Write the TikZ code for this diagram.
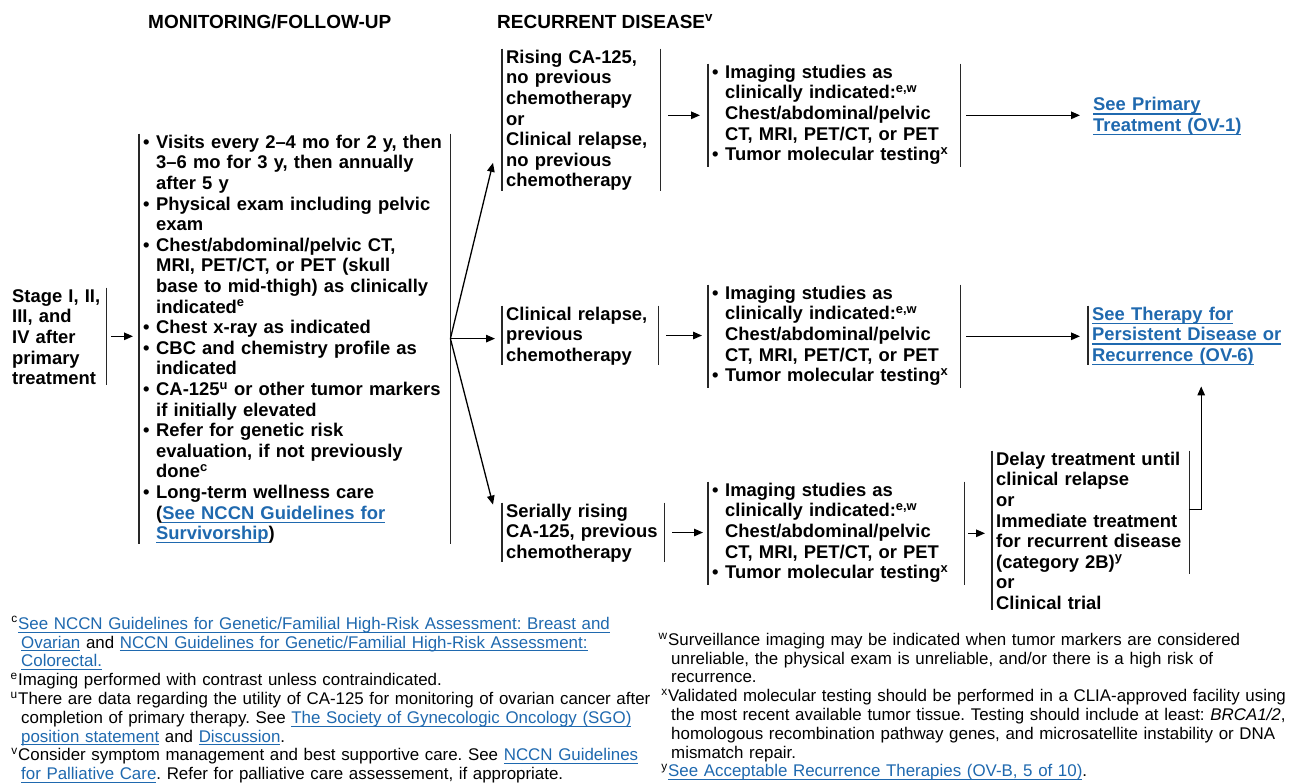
\documentclass[tikz,border=0pt]{standalone}
\usepackage{fontspec}
\setmainfont{Liberation Sans}
\usetikzlibrary{arrows.meta}
\definecolor{linkblue}{RGB}{31,105,175}
\definecolor{barline}{RGB}{40,40,40}
\frenchspacing
\newcommand\boxfont{\fontsize{18.4}{20.6}\selectfont\bfseries}
\newcommand\headfont{\fontsize{19}{22}\selectfont\bfseries}
\newcommand\notefont{\fontsize{16.9}{18.8}\selectfont}
\newcommand\lnk[1]{{\color{linkblue}\setbox0\hbox{#1}\rlap{\rule[-.2em]{\wd0}{.06em}}\box0}}
\newcommand\itm{\noindent\hangindent=13pt\hangafter=1\strut\makebox[13pt][l]{\textbullet}}
\newcommand\fn[3][14pt]{\noindent\hangindent=#1\hangafter=1\strut\makebox[#2][r]{\textsuperscript{#3}\kern.5pt}}
\newcommand\imaging{\itm Imaging studies as\newline clinically indicated:\textsuperscript{e,w}\newline Chest/abdominal/pelvic\newline CT, MRI, PET/CT, or PET\par\itm Tumor molecular testing\textsuperscript{x}\par}
\def\lbar#1{\draw[bar] (#1.north west) -- (#1.south west);}
\def\rbar#1{\draw[bar] (#1.north east) -- (#1.south east);}

\begin{document}
\begin{tikzpicture}[x=1pt,y=1pt,
	box/.style={anchor=north west, inner xsep=4pt, inner ysep=0pt, align=left, font=\boxfont},
	txtbox/.style={box, execute at begin node=\strut},
	bar/.style={draw=barline, line width=1.6pt},
	arr/.style={line width=1.3pt, -{Triangle[length=9pt,width=7.5pt]}}]
			%%%%% START %%%%%
			\fill[white] (0,0) rectangle (1298,-782);
			\useasboundingbox (0,0) rectangle (1298,-782);
			
			\node[box, font=\headfont, anchor=base west, inner sep=0pt] (hmon) at (148,-28) {MONITORING/FOLLOW-UP};
			\node[box, font=\headfont, anchor=base west, inner sep=0pt] (hrec) at (497,-28) {RECURRENT DISEASE\textsuperscript{v}};
			
			\node[txtbox, inner xsep=2pt, text width=92pt] (stage) at (10,-287.6) {Stage I, II,\newline III, and\newline IV after\newline primary\newline treatment};
			\rbar{stage}
			
			\node[box, text width=303pt] (mon) at (139,-133.6) {\itm Visits every 2–4 mo for 2 y, then\newline 3–6 mo for 3 y, then annually\newline after 5 y\par
				\itm Physical exam including pelvic\newline exam\par
				\itm Chest/abdominal/pelvic CT,\newline MRI, PET/CT, or PET (skull\newline base to mid-thigh) as clinically\newline indicated\textsuperscript{e}\par
				\itm Chest x-ray as indicated\par
				\itm CBC and chemistry profile as\newline indicated\par
				\itm CA-125\textsuperscript{u} or other tumor markers\newline if initially elevated\par
				\itm Refer for genetic risk\newline evaluation, if not previously\newline done\textsuperscript{c}\par
				\itm Long-term wellness care\newline (\lnk{See NCCN Guidelines for}\newline \lnk{Survivorship})\par};
			\lbar{mon}\rbar{mon}
			
			\node[txtbox, text width=150pt] (rec1) at (502,-48.6) {Rising CA-125,\newline no previous\newline chemotherapy\newline or\newline Clinical relapse,\newline no previous\newline chemotherapy};
			\node[txtbox, text width=148pt] (rec2) at (502,-305.6) {Clinical relapse,\newline previous\newline chemotherapy};
			\node[txtbox, text width=154pt] (rec3) at (502,-502.6) {Serially rising\newline CA-125, previous\newline chemotherapy};
			\lbar{rec1}\rbar{rec1}
			\lbar{rec2}\rbar{rec2}
			\lbar{rec3}\rbar{rec3}
			
			\node[box, text width=244pt] (img1) at (708,-63.6) {\imaging};
			\node[box, text width=244pt] (img2) at (708,-284.6) {\imaging};
			\node[box, text width=248pt] (img3) at (708,-481.6) {\imaging};
			\lbar{img1}\rbar{img1}
			\lbar{img2}\rbar{img2}
			\lbar{img3}\rbar{img3}
			
			\node[txtbox, text width=189pt] (delay) at (992,-450.6) {Delay treatment until\newline clinical relapse\newline or\newline Immediate treatment\newline for recurrent disease\newline (category 2B)\textsuperscript{y}\newline or\newline Clinical trial};
			\lbar{delay}
			\draw[bar] (delay.north east) -- ([yshift=36pt]delay.south east);
			
			\node[txtbox, text width=200pt] (ov1) at (1089,-96.3) {\lnk{See Primary}\newline \lnk{Treatment (OV-1)}};
			\node[txtbox, text width=200pt] (ov6) at (1088,-305.6) {\lnk{See Therapy for}\newline \lnk{Persistent Disease or}\newline \lnk{Recurrence (OV-6)}};
			\lbar{ov6}
			
			% arrows
			\draw[arr, shorten <=5pt, shorten >=6pt] (stage.east) -- (stage.east -| mon.west);
			\draw[arr] (mon.east) -- ([xshift=-9pt,yshift=28pt]rec1.south west);
			\draw[arr, shorten >=7pt] (mon.east) -- (mon.east -| rec2.west);
			\draw[arr] (mon.east) -- ([xshift=-9pt,yshift=-2pt]rec3.north west);
			\draw[arr, shorten <=8pt, shorten >=8pt] (rec1.east |- img1.west) -- (img1.west);
			\draw[arr, shorten <=8pt, shorten >=6pt] (rec2.east) -- (rec2.east -| img2.west);
			\draw[arr, shorten <=8pt, shorten >=5pt] (rec3.east) -- (rec3.east -| img3.west);
			\draw[arr, shorten <=6pt, shorten >=9pt] (img1.east) -- (img1.east -| ov1.west);
			\draw[arr, shorten <=6pt, shorten >=8pt] (img2.east) -- (img2.east -| ov6.west);
			\draw[arr, shorten <=4pt, shorten >=7pt] (img3.east) -- (img3.east -| delay.west);
			\draw[arr] ([yshift=-59pt]delay.north east) -| ([xshift=9pt,yshift=-21pt]ov6.south);
			
			% footnotes
			\node[box, font=\notefont, inner xsep=0pt, text width=700pt] (notel) at (7,-615.9) {\fn{11pt}{c}\lnk{See NCCN Guidelines for Genetic/Familial High-Risk Assessment: Breast and}\newline \lnk{Ovarian} and \lnk{NCCN Guidelines for Genetic/Familial High-Risk Assessment:}\newline \lnk{Colorectal.}\par
				\fn{11pt}{e}Imaging performed with contrast unless contraindicated.\par
				\fn{11pt}{u}There are data regarding the utility of CA-125 for monitoring of ovarian cancer after\newline completion of primary therapy. See \lnk{The Society of Gynecologic Oncology (SGO)}\newline \lnk{position statement} and \lnk{Discussion}.\par
				\fn{11pt}{v}Consider symptom management and best supportive care. See \lnk{NCCN Guidelines}\newline \lnk{for Palliative Care}. Refer for palliative care assessement, if appropriate.\par};
			\node[box, font=\notefont, inner xsep=0pt, text width=636pt] (noter) at (658,-631.9) {\fn[13pt]{10pt}{w}Surveillance imaging may be indicated when tumor markers are considered\newline unreliable, the physical exam is unreliable, and/or there is a high risk of\newline recurrence.\par
				\fn[13pt]{10pt}{x}Validated molecular testing should be performed in a CLIA-approved facility using\newline the most recent available tumor tissue. Testing should include at least: \textit{BRCA1/2},\newline homologous recombination pathway genes, and microsatellite instability or DNA\newline mismatch repair.\par
				\fn[13pt]{10pt}{y}\lnk{See Acceptable Recurrence Therapies (OV-B, 5 of 10)}.\par};
			%%%%% END %%%%%
\end{tikzpicture}
\end{document}
